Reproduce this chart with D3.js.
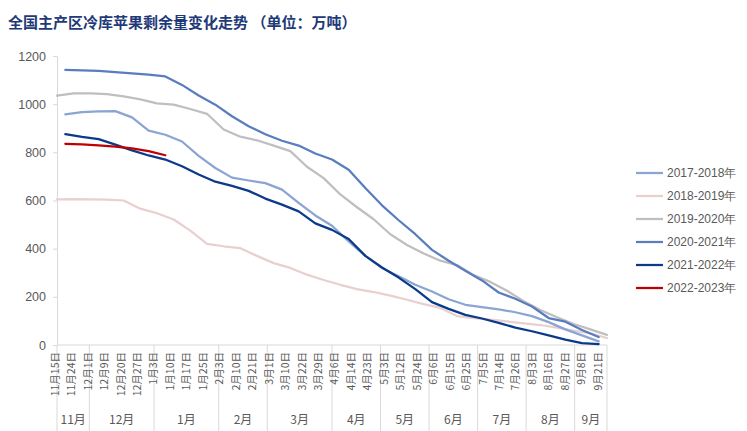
<!DOCTYPE html>
<html>
<head>
<meta charset="utf-8">
<script src="https://cdn.jsdelivr.net/npm/d3@7/dist/d3.min.js"></script>
<style>
  body { margin: 0; background: #fff; }
  svg { display: block; }
</style>
</head>
<body>
<svg id="chart" width="747" height="431"></svg>
<script>
// ---------- data ----------
const categories = ["11月15日","11月24日","12月1日","12月9日","12月20日","12月27日",
  "1月3日","1月10日","1月17日","1月25日","2月3日","2月10日","2月21日",
  "3月1日","3月10日","3月22日","3月29日","4月6日","4月14日","4月23日",
  "5月3日","5月12日","5月24日","6月6日","6月15日","6月25日",
  "7月5日","7月14日","7月26日","8月3日","8月16日","8月27日","9月8日","9月21日"];
const monthNames = ["11月","12月","1月","2月","3月","4月","5月","6月","7月","8月","9月"];
const monthCounts = [2,4,4,3,4,3,3,3,3,3,2];
const yTicks = [0,200,400,600,800,1000,1200];

const seriesNames = ["2017-2018年","2018-2019年","2019-2020年","2020-2021年","2021-2022年","2022-2023年"];
const seriesColors = ["#8AA5D4","#E9CFCF","#BFBFBF","#5A7DBF","#0B3A8A","#C00000"];
// fractional category index of each season's first record
const seriesStart = [0.5, 0, 0, 0.5, 0.5, 0.5];

const v2017 = [958,967,970,971,945,890,873,845,785,735,695,683,672,645,590,538,495,430,370,320,
  285,250,222,190,167,157,148,136,120,95,65,40,15];
const v2018 = [605,606,605,604,600,566,547,521,475,420,410,402,370,340,320,292,270,250,232,220,
  205,188,170,154,120,112,105,98,90,83,72,60,48,29];
const v2019 = [1035,1045,1045,1042,1032,1020,1003,998,980,960,895,865,850,828,805,740,693,625,572,522,
  460,415,380,350,332,290,262,225,182,145,115,87,65,42];
const v2020 = [1142,1140,1138,1133,1128,1123,1115,1080,1036,998,950,908,875,848,828,795,770,728,652,580,
  518,460,395,350,308,268,218,192,160,112,97,62,33];
const v2021 = [876,864,855,832,808,787,770,742,708,678,661,640,608,583,555,505,478,440,370,322,
  280,232,178,150,125,110,92,72,57,40,22,8,4];
const v2022 = [835,833,829,824,816,805,788];

const seriesValues = [v2017, v2018, v2019, v2020, v2021, v2022];

// ---------- chart ----------
const svg = d3.select("#chart");
const axisColor = "#D9D9D9";
const textColor = "#595959";

const x = d3.scaleLinear().domain([0, categories.length - 1]).range([57, 607]);
const xLabel = d3.scaleLinear().domain([0, categories.length - 1]).range([55, 598]);
const xBand = d3.scaleLinear().domain([0, categories.length]).range([57, 607]);
const y = d3.scaleLinear().domain([0, 1200]).range([345, 56]);

// title
svg.append("text")
  .attr("x", 8).attr("y", 28)
  .attr("font-family", "'Noto Sans CJK SC', sans-serif")
  .attr("font-weight", 700)
  .attr("font-size", 15)
  .attr("fill", "#1F3A78")
  .text("全国主产区冷库苹果剩余量变化走势  （单位：万吨）");

// y axis
const yAxis = d3.axisLeft(y).tickValues(yTicks).tickFormat(d3.format("d"))
  .tickSize(4).tickSizeOuter(0).tickPadding(7);
const gy = svg.append("g").attr("transform", "translate(57,0)").call(yAxis);
gy.select(".domain").attr("stroke", axisColor);
gy.selectAll(".tick line").attr("stroke", axisColor);
gy.selectAll(".tick text")
  .attr("fill", textColor)
  .attr("font-family", "'Liberation Sans', Arial, sans-serif")
  .attr("font-size", 12.5);

// x axis line
svg.append("line")
  .attr("x1", x(0)).attr("x2", x(categories.length - 1))
  .attr("y1", y(0)).attr("y2", y(0))
  .attr("stroke", axisColor).attr("stroke-width", 1);

// month separators
const cum = [0];
monthCounts.forEach(c => cum.push(cum[cum.length - 1] + c));
svg.append("g").selectAll("line")
  .data(cum)
  .join("line")
  .attr("x1", d => xBand(d)).attr("x2", d => xBand(d))
  .attr("y1", y(0)).attr("y2", 431)
  .attr("stroke", axisColor).attr("stroke-width", 1);

// date labels (rotated)
svg.append("g").selectAll("text")
  .data(categories)
  .join("text")
  .attr("transform", (d, i) => `translate(${xLabel(i)},352) rotate(-90)`)
  .attr("text-anchor", "end")
  .attr("dy", "0.35em")
  .attr("fill", textColor)
  .attr("font-family", "'Noto Sans CJK SC', sans-serif")
  .attr("font-size", 10.5)
  .text(d => d);

// month labels
svg.append("g").selectAll("text")
  .data(monthNames)
  .join("text")
  .attr("x", (d, i) => (xBand(cum[i]) + xBand(cum[i + 1])) / 2)
  .attr("y", 424)
  .attr("text-anchor", "middle")
  .attr("fill", textColor)
  .attr("font-family", "'Noto Sans CJK SC', sans-serif")
  .attr("font-size", 12)
  .text(d => d);

// lines
const line = d3.line()
  .x(d => x(d.i))
  .y(d => y(d.v));

const drawOrder = [1, 2, 0, 3, 4, 5];
drawOrder.forEach(s => {
  const pts = seriesValues[s].map((v, k) => ({ i: seriesStart[s] + k, v }));
  svg.append("path")
    .datum(pts)
    .attr("fill", "none")
    .attr("stroke", seriesColors[s])
    .attr("stroke-width", 2.25)
    .attr("stroke-linejoin", "round")
    .attr("stroke-linecap", "round")
    .attr("d", line);
});

// legend
const legend = svg.append("g");
seriesNames.forEach((name, i) => {
  const ly = 173 + i * 23;
  legend.append("line")
    .attr("x1", 636).attr("x2", 663)
    .attr("y1", ly).attr("y2", ly)
    .attr("stroke", seriesColors[i]).attr("stroke-width", 2.25);
  legend.append("text")
    .attr("x", 667).attr("y", ly)
    .attr("dy", "0.35em")
    .attr("fill", textColor)
    .attr("font-family", "'Liberation Sans', Arial, sans-serif")
    .attr("font-size", 12)
    .text(name);
});
</script>
</body>
</html>
